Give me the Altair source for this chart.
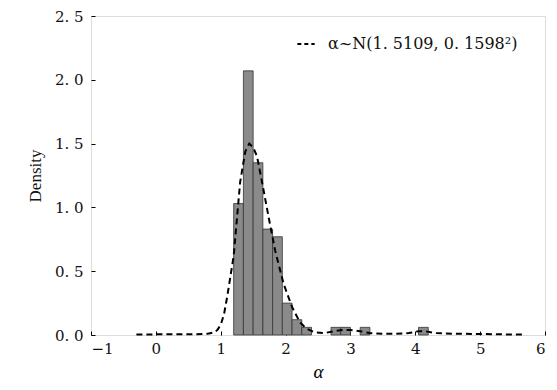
import altair as alt
import pandas as pd

# Histogram bins (alpha) and densities
bin_start = [1.20, 1.35, 1.50, 1.65, 1.80, 1.95, 2.10, 2.25, 2.70, 2.85, 3.15, 4.05]
bin_width = 0.15
density = [1.03, 2.07, 1.35, 0.83, 0.77, 0.25, 0.12, 0.06, 0.06, 0.06, 0.06, 0.06]

# Dashed density curve
curve_x = [-0.3, 0.0, 0.3, 0.6, 0.8, 0.9, 0.95, 1.0, 1.05, 1.1, 1.2, 1.3, 1.38, 1.44,
           1.5, 1.56, 1.64, 1.74, 1.84, 1.97, 2.1, 2.22, 2.32, 2.45, 2.6, 2.75, 2.9,
           3.0, 3.15, 3.3, 3.5, 3.7, 3.9, 4.05, 4.15, 4.3, 4.6, 5.0, 5.3, 5.66]
curve_y = [0.004, 0.005, 0.005, 0.006, 0.01, 0.02, 0.04, 0.08, 0.16, 0.30, 0.62, 1.2,
           1.44, 1.50, 1.47, 1.40, 1.19, 0.92, 0.66, 0.40, 0.22, 0.10, 0.05, 0.02,
           0.015, 0.03, 0.04, 0.04, 0.03, 0.015, 0.01, 0.01, 0.015, 0.03, 0.03, 0.015,
           0.01, 0.008, 0.005, 0.004]
legend_label = "α~N(1. 5109, 0. 1598²)"

x_ticks = [-1, 0, 1, 2, 3, 4, 5, 6]
y_ticks = [0.0, 0.5, 1.0, 1.5, 2.0, 2.5]

bars = pd.DataFrame({
    "x0": bin_start,
    "x1": [b + bin_width for b in bin_start],
    "d": density,
})
curve = pd.DataFrame({"x": curve_x, "y": curve_y, "s": legend_label})

FONT = "Liberation Serif"
NUMFONT = "DejaVu Serif"

xscale = alt.Scale(domain=[-1, 6], nice=False, zero=False)
yscale = alt.Scale(domain=[0, 2.5], nice=False)

xaxis = alt.Axis(values=x_ticks, format="d", title="α", titleFontStyle="italic",
                 titleFontWeight="normal", titleFontSize=19, titleFont=FONT, titlePadding=6,
                 labelFont=NUMFONT, labelFontSize=15, labelColor="#111111",
                 tickColor="black", tickSize=4, offset=-4, labelPadding=6,
                 domain=False, grid=False)
yaxis = alt.Axis(values=y_ticks, title="Density", titleFont=FONT, titleFontSize=17,
                 titleFontWeight="normal", titlePadding=10, titleColor="#111111",
                 labelFont=NUMFONT, labelFontSize=15, labelColor="#111111",
                 labelExpr="replace(format(datum.value, '.1f'), '.', '. ')",
                 tickColor="black", tickSize=4, offset=-4, labelPadding=8,
                 domain=False, grid=False)

bar_layer = alt.Chart(bars).mark_bar(color="#8a8a8a", stroke="#333333", strokeWidth=0.8).encode(
    x=alt.X("x0:Q", scale=xscale, axis=xaxis),
    x2="x1:Q",
    y=alt.Y("d:Q", scale=yscale, axis=yaxis),
    y2=alt.datum(0),
)

line_layer = alt.Chart(curve).mark_line(strokeDash=[6, 4], strokeWidth=2).encode(
    x=alt.X("x:Q", scale=xscale),
    y=alt.Y("y:Q", scale=yscale),
    color=alt.Color("s:N", scale=alt.Scale(range=["black"]),
                    legend=alt.Legend(title=None, orient="none", legendX=205, legendY=18,
                                      symbolType="stroke", symbolDash=[4, 3],
                                      symbolStrokeWidth=2, symbolSize=300, symbolOffset=0,
                                      labelOffset=12, labelLimit=400,
                                      labelFont=NUMFONT, labelFontSize=16,
                                      labelColor="#111111")),
)

chart = (bar_layer + line_layer).properties(
    width=454, height=319,
    autosize=alt.AutoSizeParams(type="none"),
    padding={"left": 83, "top": 8, "right": 2, "bottom": 46},
).configure_view(stroke="black", strokeWidth=1.2).configure(background="white")

chart.save("out.html", embed_options={"renderer": "svg", "actions": False})
